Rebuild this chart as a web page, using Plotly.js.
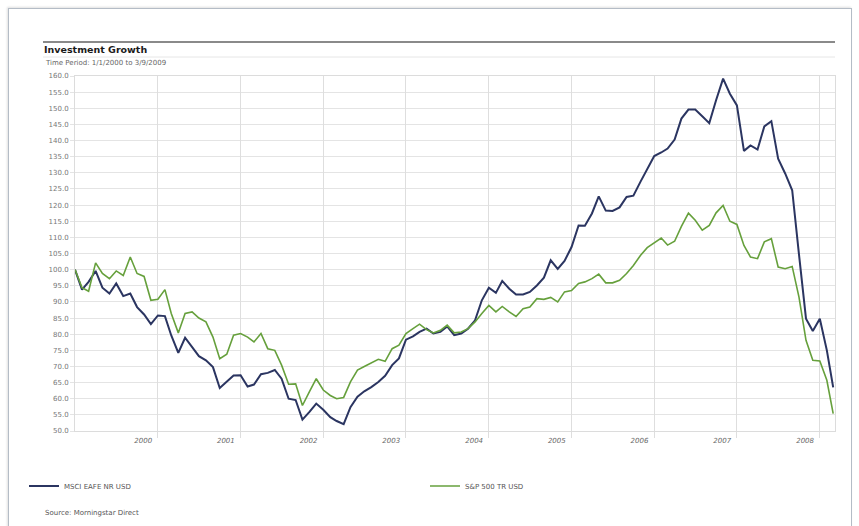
<!DOCTYPE html>
<html><head><meta charset="utf-8">
<script src="https://cdn.plot.ly/plotly-3.0.1.min.js"></script>
<style>
html,body{margin:0;padding:0;background:#fff;overflow:hidden;}
#frame{position:absolute;left:8px;top:8px;width:842px;height:530px;border:1px solid #b4bcc6;box-shadow:-1px -1px 2px rgba(0,0,0,0.12);}
#chart{position:absolute;left:0;top:0;width:859px;height:526px;}
</style></head><body>
<div id="frame"></div>
<div id="chart"></div>
<script>
// ---- data ----
const startDate = '2000-01-01';
const endDate = '2009-03-09';
const yearLabels = ['2000','2001','2002','2003','2004','2005','2006','2007','2008'];
const seriesNames = ['MSCI EAFE NR USD', 'S&P 500 TR USD'];
// month-end growth of 100, Jan 2000 start through Feb 2009
const msciEafe = [100,93.8,96.2,99.6,94.4,92.6,95.7,91.8,92.6,88.4,86.1,83.1,
  85.8,85.6,79.6,74.2,78.9,76.0,73.2,71.9,69.8,63.3,65.3,67.2,
  67.3,63.8,64.4,67.6,68.0,68.9,66.2,60.0,59.6,53.5,55.9,58.5,
  56.6,54.3,53.1,52.1,57.4,60.6,62.3,63.6,65.2,67.1,70.4,72.5,
  78.3,79.3,80.7,81.7,80.2,80.7,82.4,79.7,80.2,81.7,84.3,90.5,
  94.4,92.8,96.5,94.1,92.3,92.3,93.1,95.1,97.5,102.9,100.2,102.7,
  107.0,113.7,113.6,117.4,122.7,118.3,118.2,119.3,122.5,122.9,127.2,131.2,
  135.2,136.3,137.5,140.3,146.8,149.6,149.6,147.5,145.4,152.5,159.2,154.5,
  150.9,136.8,138.5,137.2,144.4,146.0,134.4,129.8,124.6,104.7,84.8,81.0,
  84.8,75.0,63.5];
const sp500 = [100,94.4,93.3,102.1,98.8,97.2,99.6,98.2,103.9,98.8,97.9,90.5,
  90.8,93.8,86.4,80.4,86.4,86.9,85.0,83.8,79.1,72.4,73.8,79.7,
  80.2,79.1,77.6,80.2,75.5,75.0,70.4,64.5,64.6,57.9,62.2,66.2,
  62.7,61.0,60.0,60.4,65.2,68.9,70.0,71.1,72.2,71.6,75.5,76.6,
  80.2,81.7,83.1,81.4,80.4,81.2,82.8,80.4,80.7,81.7,83.8,86.4,
  88.9,86.9,88.6,86.9,85.5,87.9,88.4,91.0,90.8,91.4,90.0,93.1,
  93.5,95.7,96.2,97.2,98.6,95.9,95.9,96.7,98.8,101.3,104.4,106.8,
  108.3,109.8,107.6,108.8,113.4,117.5,115.3,112.2,113.7,117.6,119.9,115.0,
  114.0,107.5,103.9,103.4,108.6,109.6,100.8,100.3,101.0,91.5,78.1,71.9,
  71.7,65.7,55.4];

// month dates (x categories)
function monthDate(i){
  const y = 2000 + Math.floor(i/12), m = i % 12 + 1;
  return y + '-' + String(m).padStart(2,'0') + '-01';
}
const dates = msciEafe.map((_, i) => monthDate(i));

// label positions: just left of each year-end gridline
const labelPos = yearLabels.map(y => (y) + '-10-28');
const gridPos = yearLabels.map(y => (parseInt(y)+1) + '-01-01');

// pixel -> paper helpers (plot area: x 75..835, y 76..431)
const L=75, R=24, T=76, B=95, W=859, H=526;
const pw = W-L-R, ph = H-T-B;
const px = v => (v - L)/pw;
const py = v => (H - B - v)/ph;

const traces = [
  {x: dates, y: msciEafe, name: seriesNames[0], type:'scatter', mode:'lines',
   line:{color:'#2b3561', width:2}, hoverinfo:'x+y'},
  {x: dates, y: sp500, name: seriesNames[1], type:'scatter', mode:'lines',
   line:{color:'#66a03c', width:1.6}, hoverinfo:'x+y'},
  // invisible trace to carry the year-boundary grid axis
  {x: [startDate, endDate], y:[null,null], xaxis:'x2', showlegend:false, hoverinfo:'skip', type:'scatter', mode:'lines'}
];

const baseFont = {family:'DejaVu Sans, Verdana, sans-serif', size:7, color:'#666'};

const layout = {
  width: W, height: H,
  margin: {l:L, r:R, t:T, b:B, pad:0},
  paper_bgcolor:'rgba(0,0,0,0)', plot_bgcolor:'#fff',
  font: baseFont,
  title: {text:'Investment Growth', x:44/W, xanchor:'left', xref:'container',
          y: 1-49.5/H, yanchor:'middle', yref:'container',
          font:{family:'DejaVu Sans, Verdana, sans-serif', size:9.5, color:'#1a1a1a', weight:'bold'}},
  showlegend: true,
  legend: {orientation:'h', x: px(24), xanchor:'left', y: py(486), yanchor:'middle',
           font:{family:'DejaVu Sans, Verdana, sans-serif', size:7, color:'#555'},
           entrywidth: 356, entrywidthmode:'pixels', bgcolor:'rgba(0,0,0,0)', itemclick:false},
  xaxis: {type:'date', range:[startDate, endDate], tickmode:'array',
          tickvals: labelPos, ticktext: yearLabels, showgrid:false, zeroline:false,
          ticks:'', showline:true, linecolor:'#dcdcdc', linewidth:1, mirror:true,
          tickfont:{family:'DejaVu Sans, Verdana, sans-serif', size:7, color:'#666', style:'italic'},
          ticklabelstandoff: 3},
  xaxis2: {type:'date', range:[startDate, endDate], overlaying:'x', side:'bottom',
           tickmode:'array', tickvals: gridPos, showticklabels:false,
           showgrid:true, gridcolor:'#dedede', gridwidth:1, ticks:'outside', ticklen:6,
           tickcolor:'#dedede', zeroline:false, showline:false},
  yaxis: {range:[50,160], tick0:50, dtick:5, tickformat:'.1f', showgrid:true,
          gridcolor:'#e4e4e4', gridwidth:1, zeroline:false, ticks:'outside', ticklen:4,
          tickcolor:'#e4e4e4', showline:true, linecolor:'#dcdcdc', mirror:true,
          tickfont:{family:'DejaVu Sans, Verdana, sans-serif', size:7, color:'#777'}},
  shapes: [
    {type:'line', xref:'paper', yref:'paper', x0:px(43), x1:1, y0:py(42), y1:py(42),
     line:{color:'#8a8a8a', width:2}},
    {type:'line', xref:'paper', yref:'paper', x0:px(43), x1:1, y0:py(57), y1:py(57),
     line:{color:'#e6e6e6', width:1}}
  ],
  annotations: [
    {text:'Time Period: 1/1/2000 to 3/9/2009', xref:'paper', yref:'paper',
     x:px(43), y:py(62.5), xanchor:'left', yanchor:'middle', showarrow:false,
     font:{family:'DejaVu Sans, Verdana, sans-serif', size:7, color:'#666'}},
    {text:'Source: Morningstar Direct', xref:'paper', yref:'paper',
     x:px(43), y:py(513), xanchor:'left', yanchor:'middle', showarrow:false,
     font:{family:'DejaVu Sans, Verdana, sans-serif', size:7, color:'#555'}}
  ]
};

Plotly.newPlot('chart', traces, layout, {displayModeBar:false, staticPlot:true});
</script>
</body></html>
